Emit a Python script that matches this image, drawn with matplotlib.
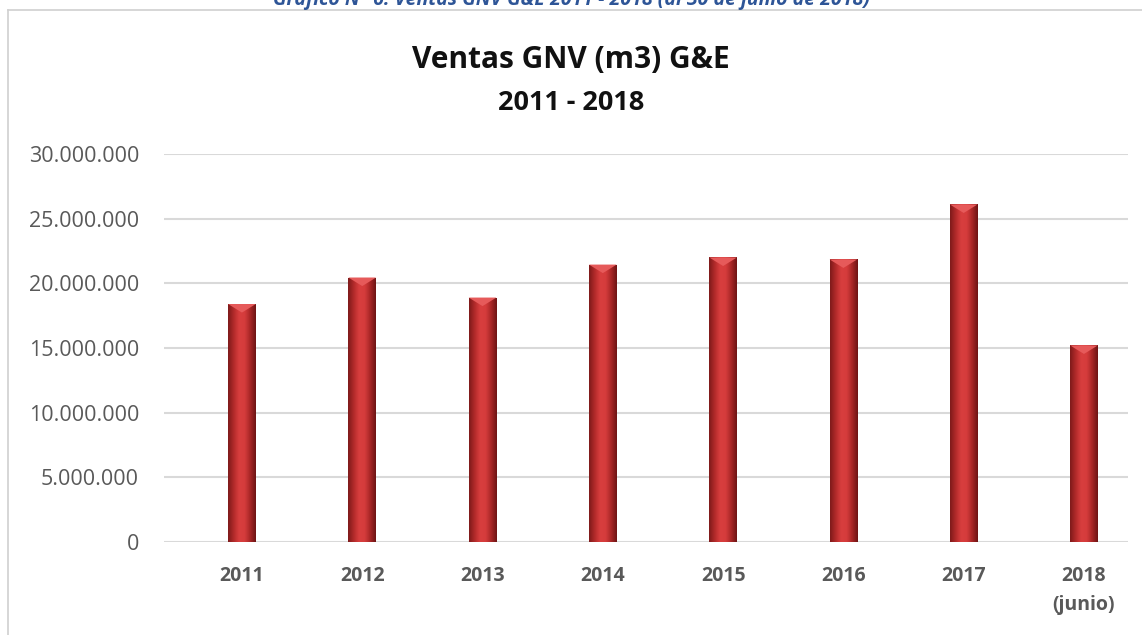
import numpy as np
import matplotlib.pyplot as plt
from matplotlib.colors import LinearSegmentedColormap
from matplotlib.lines import Line2D

# data
years = ["2011", "2012", "2013", "2014", "2015", "2016", "2017", "2018\n(junio)"]
ventas = [18400000, 20450000, 18900000, 21450000, 22000000, 21850000, 26100000, 15200000]
yticks = [0, 5000000, 10000000, 15000000, 20000000, 25000000, 30000000]

plt.rcParams['font.family'] = ['Open Sans', 'DejaVu Sans']

W, H = 1142, 635
fig = plt.figure(figsize=(W / 100, H / 100), dpi=100)

# frame of the chart object (only top and left edges show) and the cut caption above it
fig.lines.append(Line2D([8 / W, 1], [1 - 10 / H, 1 - 10 / H], transform=fig.transFigure,
                        color="#D0D0D0", linewidth=1.2))
fig.lines.append(Line2D([8 / W, 8 / W], [0, 1 - 10 / H], transform=fig.transFigure,
                        color="#D0D0D0", linewidth=1.2))
fig.text(0.5, 1.0, "Gráfico N° 6: Ventas GNV G&E 2011 - 2018 (al 30 de junio de 2018)",
         ha="center", va="center", color="#2E5597", fontsize=14, fontweight="bold",
         style="italic")

fig.text(0.5, 1 - 60 / H, "Ventas GNV (m3) G&E", ha="center", va="center",
         fontsize=21.5, fontweight="bold", color="#111111")
fig.text(0.5, 1 - 103 / H, "2011 - 2018", ha="center", va="center",
         fontsize=19.5, fontweight="bold", color="#111111")

ax = fig.add_axes([164 / W, 1 - 542 / H, (1128 - 164) / W, (542 - 154) / H])

x = np.arange(len(years))
bars = ax.bar(x, ventas, width=0.23, color="#C93333", zorder=2)

# horizontal shading to give the bars a rounded look
shade = LinearSegmentedColormap.from_list(
    "shade", ["#7E1A1A", "#B22A2A", "#D83E3E", "#D53C3C", "#A82626", "#6E1414"])
grad = np.linspace(0, 1, 64).reshape(1, -1)
for b in bars:
    x0, w, h = b.get_x(), b.get_width(), b.get_height()
    im = ax.imshow(grad, cmap=shade, extent=[x0, x0 + w, 0, h], aspect="auto",
                   interpolation="bicubic", zorder=3)
    im.set_clip_path(b)
    # bevel on the top
    tri_h = 0.022 * 30000000
    ax.fill([x0, x0 + w, x0 + w / 2], [h, h, h - tri_h], color="#E65A5A", zorder=4,
            linewidth=0)

# the category band sits a little right of centre in the original
ax.set_xlim(-0.648, 7.366)
ax.set_ylim(0, 30000000)
ax.set_yticks(yticks)
ax.set_yticklabels([f"{v:,}".replace(",", ".") for v in yticks], fontsize=15.5,
                   color="#595959")
ax.set_xticks(x)
ax.set_xticklabels(years, fontsize=14, fontweight="bold", color="#595959",
                   linespacing=1.6)
ax.tick_params(axis="both", length=0)
ax.tick_params(axis="y", pad=18)
ax.tick_params(axis="x", pad=17)
ax.grid(axis="y", color="#D9D9D9", linewidth=1.5, zorder=0)
ax.set_axisbelow(True)
for s in ax.spines.values():
    s.set_visible(False)

fig.savefig("out.png", dpi=100)
